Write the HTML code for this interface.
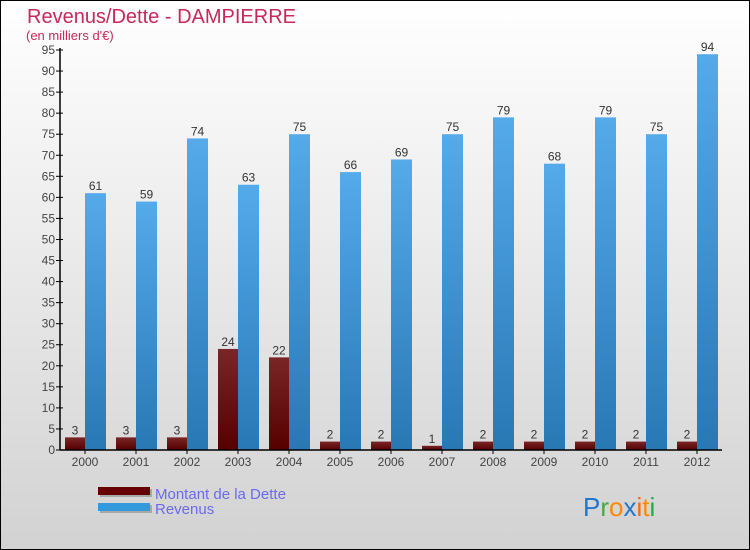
<!DOCTYPE html>
<html><head><meta charset="utf-8"><style>
body{margin:0}
#c{width:750px;height:550px;position:relative;font-family:"Liberation Sans",sans-serif;overflow:hidden}
</style></head><body>
<div id="c">
<svg width="750" height="550" id="svg">
<defs>
<linearGradient id="bg" x1="0" y1="0" x2="0" y2="1"><stop offset="0" stop-color="#ffffff"/><stop offset="1" stop-color="#d2d2d2"/></linearGradient>
<linearGradient id="gd" x1="0" y1="0" x2="0" y2="1"><stop offset="0" stop-color="#7a2626"/><stop offset="1" stop-color="#560000"/></linearGradient>
<linearGradient id="gr" x1="0" y1="0" x2="0" y2="1"><stop offset="0" stop-color="#55aaea"/><stop offset="1" stop-color="#2878b4"/></linearGradient>
</defs>
<rect x="0.5" y="0.5" width="749" height="549" fill="url(#bg)" stroke="#000"/>
<text x="27" y="23" font-size="20" fill="#c8285a">Revenus/Dette - DAMPIERRE</text>
<text x="26" y="40" font-size="13" fill="#c8285a">(en milliers d'€)</text>
<g id="plot"></g>
<rect x="100" y="489" width="52" height="8" fill="#888" opacity="0.6"/>
<rect x="98" y="487" width="52" height="8" fill="#650000"/>
<text x="155" y="499" font-size="15" fill="#6a6af0">Montant de la Dette</text>
<rect x="100" y="505" width="52" height="8" fill="#888" opacity="0.6"/>
<rect x="98" y="503" width="52" height="8" fill="#3399dd"/>
<text x="155" y="514" font-size="15" fill="#6a6af0">Revenus</text>
<g font-size="26" font-family="Liberation Sans, sans-serif">
<text x="583" y="516"><tspan fill="#2277cc">P</tspan><tspan fill="#44aa44">r</tspan><tspan fill="#ff8800">o</tspan><tspan fill="#2277cc">x</tspan><tspan fill="#ff6600">i</tspan><tspan fill="#ff8800">t</tspan><tspan fill="#22aa44">i</tspan></text>
</g>
</svg>
</div>
<script>
const years=["2000","2001","2002","2003","2004","2005","2006","2007","2008","2009","2010","2011","2012"];
const debt=[3,3,3,24,22,2,2,1,2,2,2,2,2];
const revenue=[61,59,74,63,75,66,69,75,79,68,79,75,94];
const yTicks=[0,5,10,15,20,25,30,35,40,45,50,55,60,65,70,75,80,85,90,95];
const NS="http://www.w3.org/2000/svg";
const g=document.getElementById('plot');
const y0=450,pxPer=400/95,x0=60,step=51;
const Y=v=>y0-v*pxPer;
const X=i=>65+step*i;
function el(t,a,txt){const e=document.createElementNS(NS,t);for(const k in a)e.setAttribute(k,a[k]);if(txt!==undefined)e.textContent=txt;g.appendChild(e);return e;}
yTicks.forEach(t=>{
 const l=el('line',{x1:x0-4,x2:x0+3,y1:Y(t),y2:Y(t),stroke:'#000'});
 
 
 const tx=el('text',{x:x0-5,y:Y(t)+4,'font-size':12,'text-anchor':'end',fill:'#444'},t);
 
 
});
years.forEach((yr,i)=>{
 const dx=X(i),rx=X(i)+20;
 const db=el('rect',{x:dx,y:Y(debt[i]),width:20,height:debt[i]*pxPer,fill:'url(#gd)'});
 
 
 const rb=el('rect',{x:rx,y:Y(revenue[i]),width:21,height:revenue[i]*pxPer,fill:'url(#gr)'});
 
 
 const dl=el('text',{x:dx+10,y:Y(debt[i])-3,'font-size':12,'text-anchor':'middle',fill:'#333'},debt[i]);
 
 
 const rl=el('text',{x:rx+10.5,y:Y(revenue[i])-3,'font-size':12,'text-anchor':'middle',fill:'#333'},revenue[i]);
 
 
 const tk=el('line',{x1:rx,x2:rx,y1:y0,y2:y0+4,stroke:'#000'});
 
 
 const xl=el('text',{x:rx,y:466,'font-size':12,'text-anchor':'middle',fill:'#444'},yr);
 
 
});
const ya=el('line',{x1:x0,x2:x0,y1:Y(95)-2,y2:y0,stroke:'#000','stroke-width':1.5});


const xa=el('line',{x1:x0,x2:722,y1:y0,y2:y0,stroke:'#000','stroke-width':1.5});


</script>
</body></html>
